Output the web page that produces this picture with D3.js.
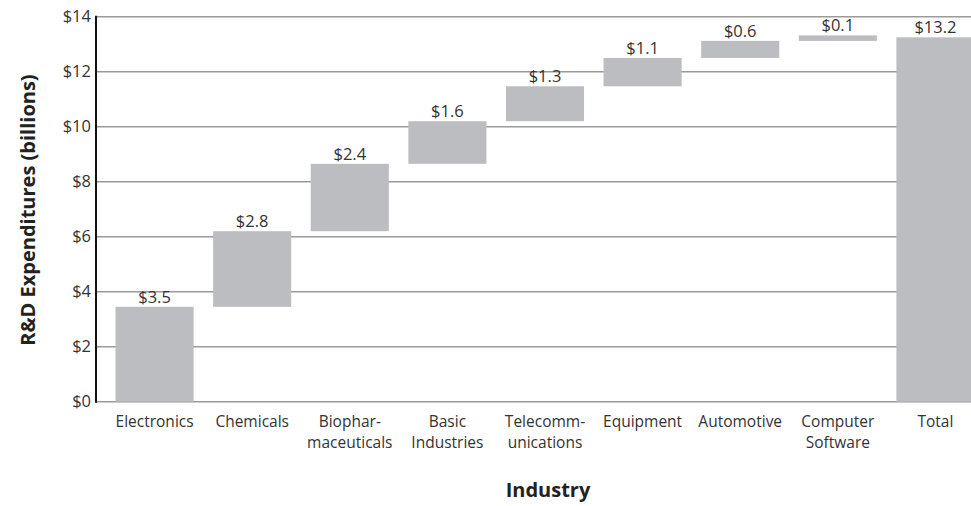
<!DOCTYPE html>
<html><head><meta charset="utf-8">
<script src="https://cdn.jsdelivr.net/npm/d3@7"></script>
<style>
body{margin:0;background:#fff;}
svg{display:block;font-family:"Open Sans",sans-serif;}
</style></head>
<body><svg id="chart" width="971" height="506"></svg>
<script>
const categories = [["Electronics"],["Chemicals"],["Biophar-","maceuticals"],["Basic","Industries"],["Telecomm-","unications"],["Equipment"],["Automotive"],["Computer","Software"],["Total"]];
const increments = [3.45, 2.75, 2.45, 1.55, 1.27, 1.03, 0.62, 0.2];
const totalValue = 13.25;
const valueLabels = ["$3.5","$2.8","$2.4","$1.6","$1.3","$1.1","$0.6","$0.1","$13.2"];
const yTicks = [0,2,4,6,8,10,12,14];

const svg = d3.select("#chart");
const m = {left:96, top:16.7, bottom:401.7, right:994};
const x = d3.scaleBand().domain(d3.range(categories.length)).range([m.left, m.right]).paddingInner(0.2).paddingOuter(0.2);
const y = d3.scaleLinear().domain([0,14]).range([m.bottom, m.top]);

// build waterfall
let cum = 0;
const bars = increments.map((v,i)=>{const s=cum; cum+=v; return {i, start:s, end:cum, label:valueLabels[i]};});
bars.push({i:increments.length, start:0, end:totalValue, label:valueLabels[increments.length]});

// gridlines
svg.append("g").selectAll("line").data(yTicks).join("line")
  .attr("x1", m.left).attr("x2", 971)
  .attr("y1", d=>y(d)).attr("y2", d=>y(d))
  .attr("stroke", "#9a9a9a").attr("stroke-width", 1.6);

// y tick labels
svg.append("g").selectAll("text").data(yTicks).join("text")
  .attr("x", m.left-5).attr("y", d=>y(d)).attr("dy","0.35em")
  .attr("text-anchor","end").attr("font-size",16.5).attr("fill","#333")
  .text(d=>"$"+d);

// bars
svg.append("g").selectAll("rect").data(bars).join("rect")
  .attr("x", d=>x(d.i)).attr("width", x.bandwidth())
  .attr("y", d=>y(d.end)).attr("height", d=>y(d.start)-y(d.end))
  .attr("fill","#bcbdc1");

// value labels
svg.append("g").selectAll("text").data(bars).join("text")
  .attr("x", d=>x(d.i)+x.bandwidth()/2).attr("y", d=>y(d.end)-4)
  .attr("text-anchor","middle").attr("font-size",16.5).attr("fill","#333")
  .text(d=>d.label);

// y axis line
svg.append("line").attr("x1",m.left).attr("x2",m.left).attr("y1",y(14)-1).attr("y2",y(0)+1)
  .attr("stroke","#111").attr("stroke-width",2);

// category labels
const cg = svg.append("g").selectAll("text").data(categories).join("text")
  .attr("text-anchor","middle").attr("font-size",15.5).attr("fill","#333")
  .attr("transform",(d,i)=>`translate(${x(i)+x.bandwidth()/2},427)`);
cg.selectAll("tspan").data(d=>d).join("tspan")
  .attr("x",0).attr("y",(d,j)=>j*21).text(d=>d);

// axis titles
svg.append("text").attr("transform","translate(35,210) rotate(-90)")
  .attr("text-anchor","middle").attr("font-size",20).attr("font-weight","bold").attr("fill","#222")
  .text("R&D Expenditures (billions)");
svg.append("text").attr("x",(m.left+m.right)/2+3).attr("y",497)
  .attr("text-anchor","middle").attr("font-size",20).attr("font-weight","bold").attr("fill","#222")
  .text("Industry");
</script></body></html>
